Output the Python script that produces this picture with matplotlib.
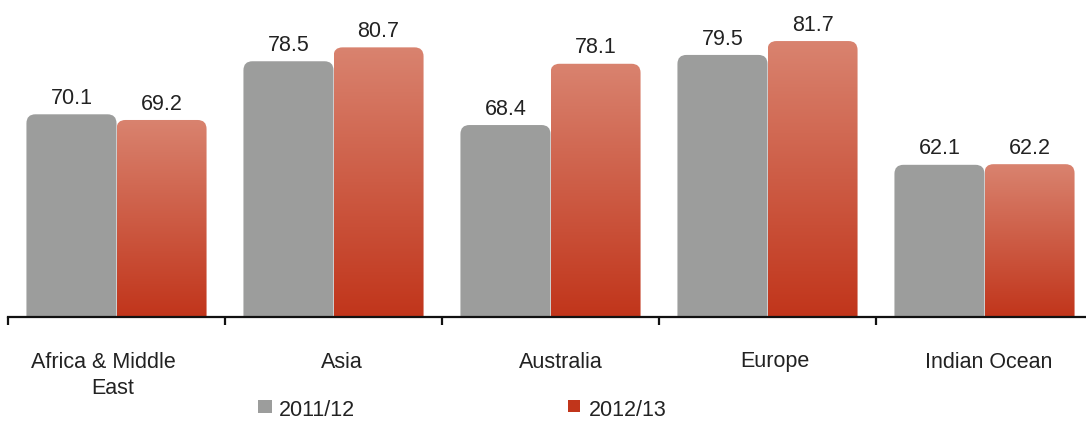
import matplotlib.pyplot as plt
import numpy as np
from matplotlib.path import Path
from matplotlib.patches import PathPatch, Rectangle
from matplotlib.colors import to_rgb

# data
regions = ["Africa & Middle\nEast", "Asia", "Australia", "Europe", "Indian Ocean"]
series = ["2011/12", "2012/13"]
vals_2011 = [70.1, 78.5, 68.4, 79.5, 62.1]
vals_2012 = [69.2, 80.7, 78.1, 81.7, 62.2]

W, H = 1086, 421
gray = "#9c9d9c"
red_top = "#d9836f"
red_bot = "#c1351b"
txt = "#222222"
fs = 15.5
plt.rcParams['font.family'] = ['Liberation Sans', 'DejaVu Sans']

fig = plt.figure(figsize=(W / 100, H / 100), dpi=100)
# axes placed in pixel terms: x 8..1093, y 0..317 (from top)
ax = fig.add_axes([8 / W, (H - 317) / H, 1085 / W, 317 / H])
ymin, ymax = 38.0, 88.2
ax.set_xlim(-0.5, 4.5)
ax.set_ylim(ymin, ymax)

px_x = 1085 / 5.0          # pixels per x unit
px_y = 317 / (ymax - ymin)  # pixels per y unit
rad = 9
rx, ry = rad / px_x, rad / px_y
bw = 0.415


def top_rounded(x0, w, y0, h):
    verts = [(x0, y0), (x0, y0 + h - ry), (x0, y0 + h), (x0 + rx, y0 + h),
             (x0 + w - rx, y0 + h), (x0 + w, y0 + h), (x0 + w, y0 + h - ry),
             (x0 + w, y0), (x0, y0)]
    codes = [Path.MOVETO, Path.LINETO, Path.CURVE3, Path.CURVE3, Path.LINETO,
             Path.CURVE3, Path.CURVE3, Path.LINETO, Path.CLOSEPOLY]
    return Path(verts, codes)


grad = np.linspace(0, 1, 256)[:, None, None]
c0, c1 = np.array(to_rgb(red_top)), np.array(to_rgb(red_bot))
grad_img = c0 * (1 - grad) + c1 * grad

x = np.arange(len(regions))
for i in x:
    # 2011/12 bar
    x0 = i - bw
    p = PathPatch(top_rounded(x0, bw, ymin, vals_2011[i] - ymin), facecolor=gray,
                  edgecolor="none", zorder=2)
    ax.add_patch(p)
    ax.annotate(f"{vals_2011[i]:.1f}", (i - bw / 2, vals_2011[i]), xytext=(0, 7.5),
                textcoords="offset points", ha="center", va="baseline",
                fontsize=fs, color=txt)
    # 2012/13 bar with gradient
    x0 = i
    p = PathPatch(top_rounded(x0, bw, ymin, vals_2012[i] - ymin), facecolor="none",
                  edgecolor="none", zorder=2)
    ax.add_patch(p)
    im = ax.imshow(grad_img, extent=(x0, x0 + bw, ymin, vals_2012[i]), origin="upper",
                   aspect="auto", zorder=2, interpolation="bilinear")
    im.set_clip_path(p)
    ax.annotate(f"{vals_2012[i]:.1f}", (i + bw / 2, vals_2012[i]), xytext=(0, 7.5),
                textcoords="offset points", ha="center", va="baseline",
                fontsize=fs, color=txt)

ax.set_xlim(-0.5, 4.5)
ax.set_ylim(ymin, ymax)

for s in ["top", "right", "left"]:
    ax.spines[s].set_visible(False)
ax.spines["bottom"].set_linewidth(1.6)
ax.spines["bottom"].set_color("#111111")
ax.set_yticks([])
ax.set_xticks(np.arange(-0.5, 5, 1.0))
ax.set_xticklabels([])
ax.tick_params(axis="x", direction="out", length=5.5, width=1.6, color="#111111")

# category labels (one text per line, baseline of first line at y=367 px)
line_dx = [[-13, -4], [8], [10], [7], [4]]
for i, r in enumerate(regions):
    cx = 8 + (i + 0.5) * px_x
    for k, line in enumerate(r.split("\n")):
        fig.text((cx + line_dx[i][k]) / W, 1 - (367.5 + 27 * k) / H, line, ha="center",
                 va="baseline", fontsize=fs, color=txt)

# legend
fig.add_artist(Rectangle((258 / W, 1 - 413 / H), 14 / W, 13 / H, transform=fig.transFigure,
                         facecolor=gray, edgecolor="none"))
fig.text(279 / W, 1 - 416 / H, series[0], ha="left", va="baseline", fontsize=fs, color=txt)
fig.add_artist(Rectangle((568 / W, 1 - 412 / H), 12 / W, 12 / H, transform=fig.transFigure,
                         facecolor=red_bot, edgecolor="none"))
fig.text(589 / W, 1 - 416 / H, series[1], ha="left", va="baseline", fontsize=fs, color=txt)

fig.savefig("out.png", dpi=100)
